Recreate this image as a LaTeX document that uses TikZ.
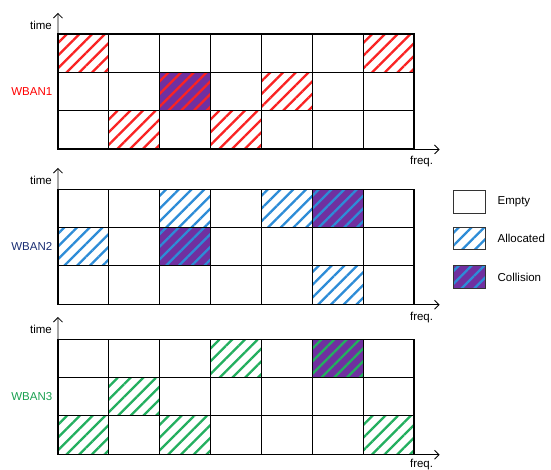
\documentclass[tikz,border=0pt]{standalone}
\usepackage{fontspec}
\setmainfont{Liberation Sans}
\usepackage{tikz}
\usetikzlibrary{calc,positioning,arrows.meta,patterns.meta}
\definecolor{redline}{RGB}{250,35,35}
\definecolor{blueline}{RGB}{45,140,215}
\definecolor{greenline}{RGB}{35,175,95}
\definecolor{navytext}{RGB}{25,45,115}
\definecolor{greentext}{RGB}{25,160,80}
\definecolor{collide}{RGB}{112,48,160}
\tikzset{
  slot/.style={draw=black, line width=1.1pt, fill=white, inner sep=0pt,
               minimum width=50.86pt, minimum height=38.3pt},
  alloc/.style={pattern={Lines[angle=45,distance=9pt,line width=2.3pt]},
                pattern color=#1},
  clash/.style={preaction={fill=collide}, alloc=#1},
  keybox/.style={draw=black!80, line width=0.9pt, inner sep=0pt,
                 minimum width=32pt, minimum height=22.6pt},
  axis/.style={line width=0.8pt, -{Straight Barb[length=4.5pt,width=9pt]}},
  lbl/.style={font=\fontsize{11.5}{13}\selectfont, inner sep=0pt},
}
\begin{document}
\begin{tikzpicture}[x=1pt,y=-1pt]
  \useasboundingbox (0,0) rectangle (551,470);
  % empty grids, 3 rows x 7 channels each
  \foreach \g/\top in {1/34,2/189.3,3/339.3}{
    \foreach \r in {0,1,2}
      \foreach \c in {0,...,6}
        \node[slot] (w\g-\r-\c) at ({58+(\c+0.5)*50.86},{\top+(\r+0.5)*38.3}) {};
  }
  % WBAN1
  \foreach \r/\c in {0/0,0/6,1/4,2/1,2/3}
    \node[slot, alloc=redline] (a1-\r-\c) at (w1-\r-\c) {};
  \node[slot, clash=redline] (x1-1-2) at (w1-1-2) {};
  % WBAN2
  \foreach \r/\c in {0/2,0/4,1/0,2/5}
    \node[slot, alloc=blueline] (a2-\r-\c) at (w2-\r-\c) {};
  \foreach \r/\c in {0/5,1/2}
    \node[slot, clash=blueline] (x2-\r-\c) at (w2-\r-\c) {};
  % WBAN3
  \foreach \r/\c in {0/3,1/1,2/0,2/2,2/6}
    \node[slot, alloc=greenline] (a3-\r-\c) at (w3-\r-\c) {};
  \node[slot, clash=greenline] (x3-0-5) at (w3-0-5) {};
  % axes
  \foreach \g/\tip/\dy in {1/13/12.5,2/168/12.5,3/317/9.5}{
    \coordinate (o\g) at (w\g-2-0.south west);
    \coordinate (t\g) at (58,\tip);
    \coordinate (f\g) at ($(w\g-2-6.south east)+(25,0)$);
    \draw[axis] (o\g) -- (t\g);
    \draw[axis] (o\g) -- (f\g);
    \node[lbl, anchor=east] (time\g) at ($(t\g)+(-6,12)$) {time};
    \node[lbl] (freq\g) at ($(f\g)+(-18,\dy)$) {freq.};
  }
  \node[lbl, anchor=east, text=red] (n1) at ($(w1-1-0.west)+(-5,0)$) {WBAN1};
  \node[lbl, anchor=east, text=navytext] (n2) at ($(w2-1-0.west)+(-5,0)$) {WBAN2};
  \node[lbl, anchor=east, text=greentext] (n3) at ($(w3-1-0.west)+(-5,0)$) {WBAN3};
  % legend
  \node[keybox] (kEmpty) at (469,202) {};
  \node[keybox, alloc=blueline] (kAlloc) at (469,238.5) {};
  \node[keybox, clash=blueline] (kClash) at (469,277) {};
  \node[lbl, right=12pt of kEmpty] (tEmpty) {Empty};
  \node[lbl, right=12pt of kAlloc] (tAlloc) {Allocated};
  \node[lbl, right=12pt of kClash] (tClash) {Collision};
\end{tikzpicture}
\end{document}
